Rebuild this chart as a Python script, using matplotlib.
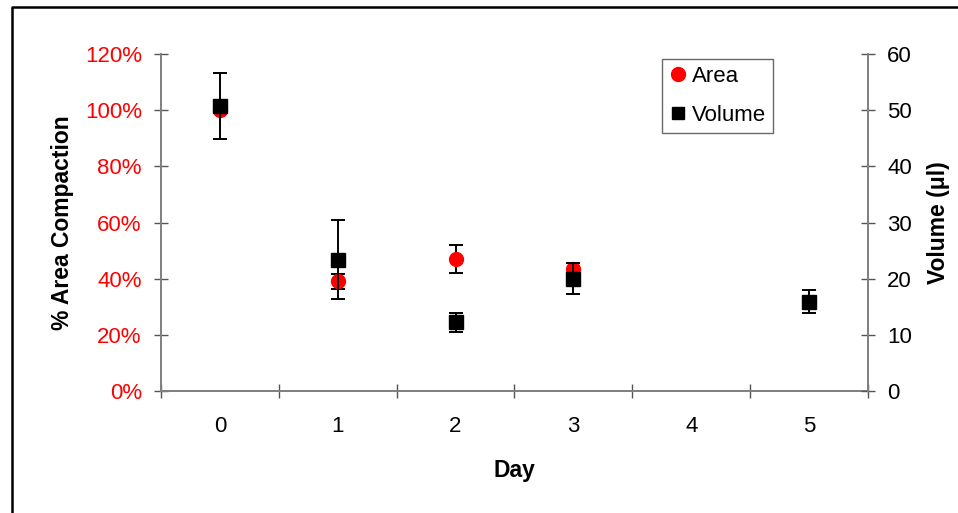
import matplotlib.pyplot as plt
from matplotlib.lines import Line2D
from matplotlib.ticker import FuncFormatter

plt.rcParams['font.family'] = ['Liberation Sans', 'DejaVu Sans']

# data
area_days = [0, 1, 2, 3]
area_pct = [1.00, 0.39, 0.47, 0.433]
area_err = [0.0, 0.027, 0.05, 0.022]

vol_days = [0, 1, 2, 3, 5]
vol_ul = [50.7, 23.4, 12.2, 20.0, 15.9]
vol_err = [5.9, 7.0, 1.7, 2.8, 2.0]

day_labels = ['0', '1', '2', '3', '4', '5']

fig = plt.figure(figsize=(9.58, 5.13), dpi=100)
ax = fig.add_axes([0.168, 0.2378, 0.738, 0.6569])
ax2 = ax.twinx()

ax.errorbar(area_days, area_pct, yerr=area_err, fmt='o', color='red', ms=10,
            ecolor='black', elinewidth=1.4, capsize=5, capthick=1.4, label='Area', zorder=3)
ax2.errorbar(vol_days, vol_ul, yerr=vol_err, fmt='s', color='black', ms=9.5,
             ecolor='black', elinewidth=1.4, capsize=5, capthick=1.4, label='Volume', zorder=3)

ax.set_xlim(-0.5, 5.5)
ax.set_ylim(0, 1.2)
ax2.set_ylim(0, 60)

ax.set_yticks([0, 0.2, 0.4, 0.6, 0.8, 1.0, 1.2])
ax.yaxis.set_major_formatter(FuncFormatter(lambda v, p: f'{v*100:.0f}%'))
ax2.set_yticks(range(0, 61, 10))

# category ticks between days, labels centred on days
ax.set_xticks([x - 0.5 for x in range(7)])
ax.set_xticklabels([])
ax.set_xticks(range(6), minor=True)
ax.set_xticklabels(day_labels, minor=True)
ax.tick_params(axis='x', which='minor', length=0, pad=18, labelsize=16)
ax.tick_params(axis='x', which='major', direction='inout', length=9.5, width=1, color='#555555')

ax.tick_params(axis='y', direction='inout', length=9.5, width=1, color='#555555',
               labelcolor='red', labelsize=16, pad=9)
ax2.tick_params(axis='y', direction='inout', length=9.5, width=1, color='#555555',
                labelcolor='black', labelsize=16, pad=9)

for a in (ax, ax2):
    a.spines['top'].set_visible(False)
    for s in ('left', 'right', 'bottom'):
        a.spines[s].set_color('#7f7f7f')
        a.spines[s].set_linewidth(1.4)
ax2.spines['left'].set_visible(False)
ax2.spines['bottom'].set_visible(False)
ax.spines['right'].set_visible(False)

ax.set_xlabel('Day', fontsize=16.5, fontweight='bold', labelpad=16)
ax.set_ylabel('% Area Compaction', fontsize=16.5, fontweight='bold', labelpad=8)
ax2.set_ylabel('Volume (\u03bcl)', fontsize=16.5, fontweight='bold', labelpad=11)

handles = [Line2D([], [], marker='o', color='red', ls='none', ms=10),
           Line2D([], [], marker='s', color='black', ls='none', ms=9)]
leg = ax2.legend(handles, ['Area', 'Volume'], loc='upper left',
                 bbox_to_anchor=(662 / 958, 1 - 59 / 513), bbox_transform=fig.transFigure,
                 fontsize=16, frameon=True, fancybox=False, borderpad=0.32,
                 handletextpad=0.22, handlelength=0.8, labelspacing=0.8, borderaxespad=0)
leg.get_frame().set_edgecolor('#444444')
leg.get_frame().set_linewidth(1)

# outer frame (left and top edges of the chart area)
fig.add_artist(Line2D([12 / 958, 12 / 958, 1.0], [0.0, 1 - 7 / 513, 1 - 7 / 513],
                      transform=fig.transFigure, color='black', lw=1.8))

fig.savefig('out.png', dpi=100)
